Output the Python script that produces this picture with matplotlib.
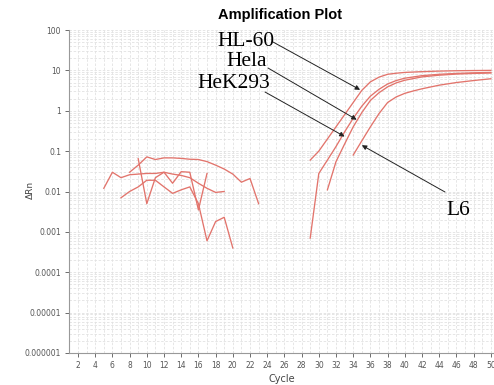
import matplotlib
matplotlib.use("Agg")
import matplotlib.pyplot as plt
from matplotlib.ticker import FixedLocator, LogLocator, NullFormatter

# Baseline (non-amplified) wells: cycle numbers and ΔRn values
noise1_cycles = [8, 9, 10, 11, 12, 13, 14, 15, 16, 17, 18, 19, 20, 21, 22, 23]
noise1_vals = [0.03, 0.045, 0.072, 0.062, 0.068, 0.068, 0.066, 0.063, 0.062, 0.055,
               0.045, 0.036, 0.027, 0.017, 0.021, 0.005]
noise2_cycles = [5, 6, 7, 8, 9, 10, 11, 12, 13, 14, 15, 16, 17, 18, 19]
noise2_vals = [0.012, 0.03, 0.022, 0.026, 0.027, 0.028, 0.028, 0.03, 0.027, 0.025,
               0.022, 0.016, 0.012, 0.0095, 0.01]
noise3_cycles = [9, 10, 11, 12, 13, 14, 15, 16, 17]
noise3_vals = [0.065, 0.005, 0.022, 0.03, 0.016, 0.031, 0.03, 0.0035, 0.028]
noise4_cycles = [7, 8, 9, 10, 11, 12, 13, 14, 15, 16, 17, 18, 19, 20]
noise4_vals = [0.007, 0.01, 0.013, 0.019, 0.019, 0.013, 0.009, 0.011, 0.013, 0.005,
               0.0006, 0.0018, 0.0023, 0.0004]

# Amplification curves
hl60_cycles = [29, 30, 31, 32, 33, 34, 35, 36, 37, 38, 39, 40, 42, 44, 46, 48, 50]
hl60_vals = [0.06, 0.1, 0.2, 0.4, 0.8, 1.6, 3.2, 5.2, 6.8, 8.0, 8.5, 8.9, 9.3, 9.6,
             9.8, 9.9, 10.0]
hela_cycles = [29, 30, 31, 32, 33, 34, 35, 36, 37, 38, 39, 40, 42, 44, 46, 48, 50]
hela_vals = [0.0007, 0.028, 0.06, 0.13, 0.3, 0.65, 1.3, 2.3, 3.4, 4.6, 5.6, 6.4,
             7.4, 8.0, 8.4, 8.7, 8.9]
hek_cycles = [31, 32, 33, 34, 35, 36, 37, 38, 39, 40, 42, 44, 46, 48, 50]
hek_vals = [0.011, 0.055, 0.15, 0.4, 0.9, 1.8, 2.8, 3.9, 4.9, 5.7, 6.9, 7.6, 8.1,
            8.4, 8.6]
l6_cycles = [34, 35, 36, 37, 38, 39, 40, 41, 42, 44, 46, 48, 50]
l6_vals = [0.08, 0.18, 0.4, 0.85, 1.6, 2.2, 2.7, 3.1, 3.5, 4.3, 5.0, 5.6, 6.2]

x_ticks = list(range(2, 51, 2))
y_ticks = [1e-6, 1e-5, 1e-4, 1e-3, 1e-2, 1e-1, 1, 10, 100]
y_labels = ["0.000001", "0.00001", "0.0001", "0.001", "0.01", "0.1", "1", "10", "100"]

line_color = "#e2746c"
tick_color = "#555555"

W, H = 494, 385
fig = plt.figure(figsize=(W / 100, H / 100), dpi=100)
ax = fig.add_axes([69.4 / W, 32 / H, (W - 69.4) / W, 323 / H])

for cyc, val in [(noise1_cycles, noise1_vals), (noise2_cycles, noise2_vals),
                 (noise3_cycles, noise3_vals), (noise4_cycles, noise4_vals),
                 (hl60_cycles, hl60_vals), (hela_cycles, hela_vals),
                 (hek_cycles, hek_vals), (l6_cycles, l6_vals)]:
    ax.plot(cyc, val, color=line_color, lw=0.95, solid_joinstyle="round")

ax.set_yscale("log")
ax.set_xlim(1, 50.37)
ax.set_ylim(1e-6, 100)

ax.xaxis.set_major_locator(FixedLocator(x_ticks))
ax.xaxis.set_minor_locator(FixedLocator(range(1, 51)))
ax.set_xticklabels([str(t) for t in x_ticks])
ax.yaxis.set_major_locator(FixedLocator(y_ticks))
ax.set_yticklabels(y_labels)
ax.yaxis.set_minor_locator(LogLocator(base=10, subs=range(2, 10), numticks=20))
ax.yaxis.set_minor_formatter(NullFormatter())

ax.grid(which="both", axis="both", color="#e2e2e2", lw=0.6, ls=(0, (3, 2)))
ax.set_axisbelow(True)

ax.tick_params(axis="both", which="major", labelsize=5.5, colors=tick_color,
               length=3, width=0.6, pad=3)
ax.tick_params(axis="both", which="minor", length=0)
for side in ("top", "right"):
    ax.spines[side].set_visible(False)
for side in ("left", "bottom"):
    ax.spines[side].set_color("#999999")
    ax.spines[side].set_linewidth(0.8)

ax.set_xlabel("Cycle", fontsize=7, color="#444444", labelpad=3)
ax.set_ylabel("ΔRn", fontsize=6.5, color="#444444")
ax.yaxis.set_label_coords(-0.081, 0.505)
fig.text(0.567, 1 - 15 / H, "Amplification Plot", ha="center", va="center",
         fontsize=10.5, fontweight="bold", family="Liberation Sans")


def fig_px(x, y):
    """Figure fraction from pixel position measured from the top-left."""
    return (x / W, 1 - y / H)


# Cell-line labels with arrows pointing to their curves
serif = dict(family="Liberation Serif", fontsize=15.5, color="black")
arrow = dict(arrowstyle="-|>", color="#222222", lw=0.7, mutation_scale=7,
             shrinkA=0, shrinkB=0)
labels = [
    ("HL-60", (246, 42), (273, 42), (34.8, 3.3)),
    ("Hela", (247, 61), (268, 68), (34.4, 0.6)),
    ("HeK293", (234, 84), (265, 92), (33.0, 0.23)),
    ("L6", (458, 211), (445, 192), (35.0, 0.14)),
]
for text, text_pos, tail_pos, tip in labels:
    fig.text(*fig_px(*text_pos), text, ha="center", va="center", **serif)
    ax.annotate("", xy=tip, xycoords="data", xytext=fig_px(*tail_pos),
                textcoords="figure fraction", arrowprops=dict(arrow))

fig.savefig("out.png", dpi=100)
